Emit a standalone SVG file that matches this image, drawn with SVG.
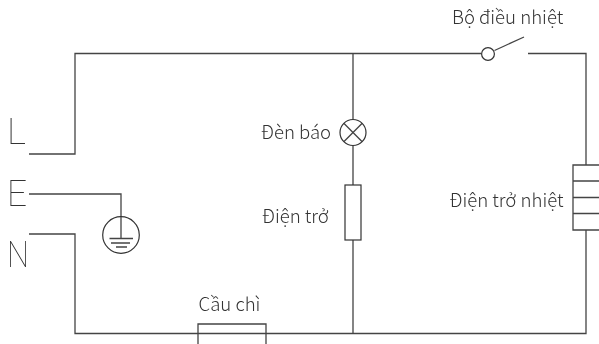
<svg xmlns="http://www.w3.org/2000/svg" width="599" height="344" viewBox="0 0 599 344">
<defs><filter id="g" x="-20%" y="-20%" width="140%" height="140%" color-interpolation-filters="sRGB"><feOffset dx="0" dy="0"/></filter></defs>
<style>
.w{fill:none;stroke:#444;stroke-width:1.3}
.s{fill:#fff;stroke:#333;stroke-width:1.2}
.t{font-family:"Noto Sans CJK SC","Noto Sans",sans-serif;font-weight:300;font-size:18.600px;fill:#333;filter:url(#g)}
.b{font-family:Roboto,"Noto Sans",sans-serif;font-weight:100;font-size:36px;fill:#333;filter:url(#g)}
</style>
<rect width="599" height="344" fill="#fff"/>
<g id="connectors">
<path class="w" d="M29 154H75V53.500H481.500"/>
<path class="w" d="M528 53.500H586V165"/>
<path class="w" d="M586 230V333.500H75V234H29"/>
<path class="w" d="M29 194H121V217"/>
<path class="w" d="M353 53.500V119.500M353 145.500V185M353 240V333.500"/>
<path class="w" d="M494.500 50.500L524 37"/>
</g>
<g id="label-L"><text class="b" x="7" y="144" textLength="19" lengthAdjust="spacingAndGlyphs">L</text></g>
<g id="label-E"><text class="b" x="7" y="206" textLength="20" lengthAdjust="spacingAndGlyphs">E</text></g>
<g id="label-N"><text class="b" x="7" y="267" textLength="22" lengthAdjust="spacingAndGlyphs">N</text></g>
<g id="ground">
<circle class="s" cx="121" cy="235" r="18.300"/>
<path class="w" d="M121 217V238.500M109.500 238.500H133M111 243H130M116 247H127"/>
</g>
<g id="thermostat">
<circle class="s" cx="488" cy="54" r="6.400"/>
<text class="t" x="452" y="24">Bộ điều nhiệt</text>
</g>
<g id="lamp">
<circle class="s" cx="353" cy="132.500" r="13"/>
<path class="w" d="M343.800 123.300L362.200 141.700M362.200 123.300L343.800 141.700"/>
<text class="t" x="261" y="138.500">Đèn báo</text>
</g>
<g id="resistor">
<rect class="s" x="345" y="185" width="16" height="55"/>
<text class="t" x="262" y="223">Điện trở</text>
</g>
<g id="heater">
<path class="w" d="M599 165H573V230H599M573 181H599M573 197.500H599M573 213.500H599"/>
<text class="t" x="449.500" y="207">Điện trở nhiệt</text>
</g>
<g id="fuse">
<path class="w" d="M198 344V324H266V344"/>
<text class="t" x="198.500" y="310.500">Cầu chì</text>
</g>
</svg>
